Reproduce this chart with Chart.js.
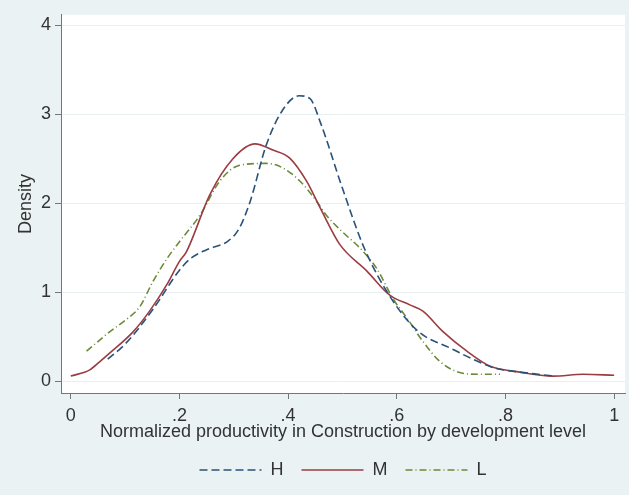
<!DOCTYPE html>
<html>
<head>
<meta charset="utf-8">
<title>Density</title>
<script src="https://cdn.jsdelivr.net/npm/chart.js"></script>
<style>
html, body { margin: 0; padding: 0; background: #eaf2f3; }
canvas { display: block; }
</style>
</head>
<body>
<canvas id="chart" width="629" height="495"></canvas>
<script>
/*Ejes*/
var xTicks = [0, 0.2, 0.4, 0.6, 0.8, 1];
var xTickLabels = ['0', '.2', '.4', '.6', '.8', '1'];
var yTicks = [0, 1, 2, 3, 4];
var yTickLabels = ['0', '1', '2', '3', '4'];
var seriesNames = ['H', 'M', 'L'];

/*Serie H*/
var xH = [0.068, 0.10, 0.15, 0.20, 0.22, 0.25, 0.29, 0.31, 0.33, 0.36, 0.39, 0.42, 0.44, 0.46, 0.50, 0.54, 0.59, 0.64, 0.70, 0.74, 0.78, 0.82, 0.86, 0.89];
var yH = [0.25, 0.42, 0.80, 1.25, 1.38, 1.48, 1.58, 1.72, 2.02, 2.66, 3.05, 3.21, 3.18, 2.90, 2.17, 1.50, 0.93, 0.56, 0.37, 0.25, 0.15, 0.11, 0.08, 0.06];

/*Serie M*/
var xM = [0.0, 0.035, 0.053, 0.072, 0.115, 0.145, 0.177, 0.20, 0.213, 0.256, 0.298, 0.339, 0.372, 0.403, 0.434, 0.459, 0.495, 0.545, 0.587, 0.624, 0.648, 0.685, 0.729, 0.772, 0.821, 0.888, 0.943, 1.0];
var yM = [0.06, 0.13, 0.22, 0.32, 0.56, 0.79, 1.09, 1.35, 1.46, 2.10, 2.50, 2.67, 2.60, 2.51, 2.25, 1.95, 1.54, 1.24, 0.97, 0.86, 0.79, 0.56, 0.34, 0.17, 0.11, 0.06, 0.08, 0.07];

/*Serie L*/
var xL = [0.029, 0.072, 0.103, 0.127, 0.151, 0.177, 0.20, 0.238, 0.274, 0.311, 0.361, 0.39, 0.422, 0.453, 0.47, 0.50, 0.532, 0.563, 0.593, 0.619, 0.648, 0.68, 0.711, 0.748, 0.79];
var yL = [0.34, 0.56, 0.70, 0.84, 1.12, 1.38, 1.57, 1.87, 2.25, 2.43, 2.45, 2.40, 2.25, 2.02, 1.87, 1.68, 1.50, 1.27, 0.93, 0.71, 0.45, 0.22, 0.11, 0.08, 0.08];

var fontFamily = '"Liberation Sans", Arial, sans-serif', textColor = '#333333', axisColor = '#767676',
	lineWidth = 1.6;

/*Une x e y en puntos*/
function toPoints(xs, ys){
	var i, list = [];
	for(i = 0; i < xs.length; i++){
		list.push({x: xs[i], y: ys[i]});
	}
	return list;
}

/*Construye un dataset*/
function buildSerie(name, xs, ys, color, dash){
	return {
		label: name,
		data: toPoints(xs, ys),
		borderColor: color,
		backgroundColor: color,
		borderWidth: lineWidth,
		borderDash: dash,
		pointRadius: 0,
		fill: false,
		cubicInterpolationMode: 'monotone'
	};
}

/*Leyenda con el mismo trazo de cada serie*/
function legendLabels(chart){
	var items = Chart.defaults.plugins.legend.labels.generateLabels(chart);
	items.forEach(function(item){
		var ds = chart.data.datasets[item.datasetIndex];
		item.lineDash = ds.borderDash;
		item.lineWidth = lineWidth;
		item.strokeStyle = ds.borderColor;
	});
	return items;
}

/*Fondo del grafico y del area de trazado*/
var backgroundPlugin = {
	id: 'background',
	beforeDraw: function(chart){
		var ctx = chart.ctx, area = chart.chartArea;
		ctx.save();
		ctx.fillStyle = '#eaf2f3';
		ctx.fillRect(0, 0, chart.width, chart.height);
		ctx.fillStyle = '#ffffff';
		ctx.fillRect(area.left, area.top, area.right - area.left, area.bottom - area.top);
		ctx.restore();
	}
};

var chart = new Chart(document.getElementById('chart'), {
	type: 'line',
	data: {
		datasets: [
			buildSerie(seriesNames[0], xH, yH, '#2a5278', [8, 4]),
			buildSerie(seriesNames[1], xM, yM, '#9a3c42', []),
			buildSerie(seriesNames[2], xL, yL, '#6b8a3a', [7, 3, 1, 3])
		]
	},
	options: {
		responsive: false,
		animation: false,
		layout: {padding: {left: 0, right: 4, top: 12, bottom: 6}},
		plugins: {
			tooltip: {enabled: false},
			legend: {
				position: 'bottom',
				fullSize: false,
				labels: {
					usePointStyle: true,
					pointStyle: 'line',
					pointStyleWidth: 62,
					padding: 18,
					color: textColor,
					font: {family: fontFamily, size: 18},
					generateLabels: legendLabels
				}
			}
		},
		scales: {
			x: {
				type: 'linear',
				min: -0.018,
				max: 1.02,
				afterFit: function(scale){ scale.height = 50; },
				afterBuildTicks: function(scale){
					scale.ticks = xTicks.map(function(v){ return {value: v}; });
				},
				ticks: {
					padding: 6,
					color: textColor,
					font: {family: fontFamily, size: 18},
					autoSkip: false,
					maxRotation: 0,
					callback: function(value){ return xTickLabels[xTicks.indexOf(value)]; }
				},
				grid: {drawOnChartArea: false, tickLength: 6, tickColor: axisColor},
				border: {color: axisColor, width: 1},
				title: {
					display: true,
					text: 'Normalized productivity in Construction by development level',
					color: textColor,
					font: {family: fontFamily, size: 18},
					padding: {top: 0, bottom: 0}
				}
			},
			y: {
				min: -0.13,
				max: 4.12,
				afterFit: function(scale){ scale.width = 61; },
				afterBuildTicks: function(scale){
					scale.ticks = yTicks.map(function(v){ return {value: v}; });
				},
				ticks: {
					padding: 4,
					color: textColor,
					font: {family: fontFamily, size: 18},
					callback: function(value){ return yTickLabels[yTicks.indexOf(value)]; }
				},
				grid: {color: '#e8eff1', tickLength: 6, tickColor: axisColor},
				border: {color: axisColor, width: 1},
				title: {
					display: true,
					text: 'Density',
					color: textColor,
					font: {family: fontFamily, size: 18},
					padding: {top: 15, bottom: 0}
				}
			}
		}
	},
	plugins: [backgroundPlugin]
});
</script>
</body>
</html>
